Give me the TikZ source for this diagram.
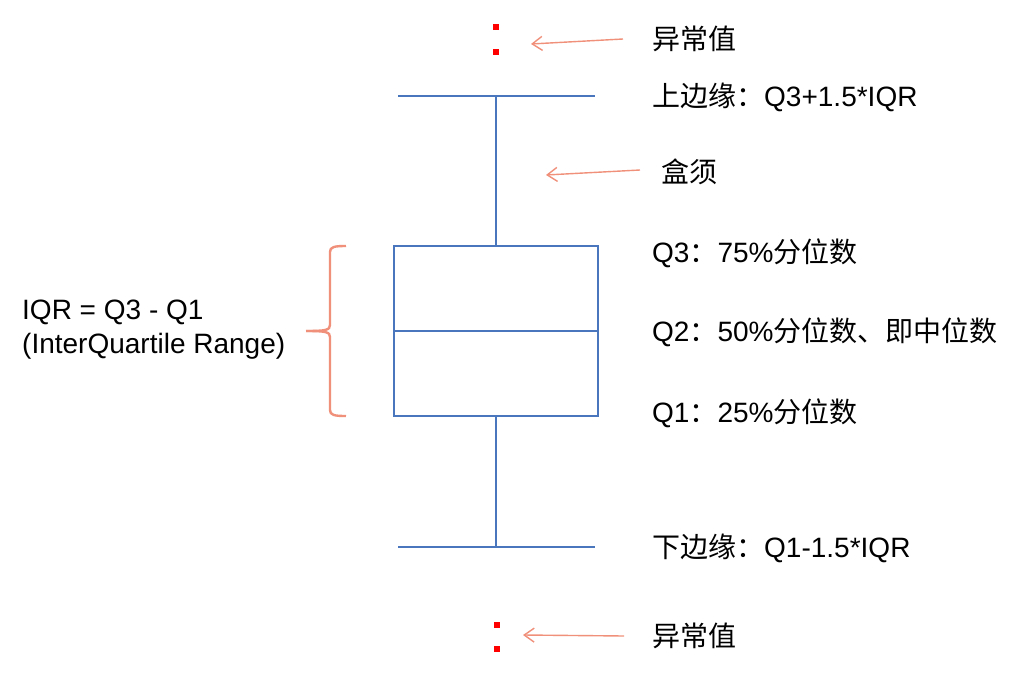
\documentclass[tikz,border=0pt]{standalone}
\usepackage{fontspec}
\setmainfont{Liberation Sans}
\newfontfamily\cjk{Noto Sans CJK SC}
\usetikzlibrary{arrows.meta}
\definecolor{boxblue}{HTML}{4A76BE}
\definecolor{salmon}{HTML}{F0907A}
\definecolor{outred}{HTML}{FF0000}
\tikzset{
  lbl/.style={anchor=west,inner sep=0pt,font=\fontsize{28}{34}\selectfont},
  boxline/.style={draw=boxblue,line width=1.8pt},
  arr/.style={draw=salmon,line width=1.4pt,-{Straight Barb[length=10pt,width=14pt,line width=1.4pt]}},
  brace/.style={draw=salmon,line width=2.4pt},
  dot/.style={fill=outred,draw=none,minimum size=6pt,inner sep=0pt,rectangle}
}
\begin{document}
\begin{tikzpicture}[x=1pt,y=-1pt]
\useasboundingbox (0,0) rectangle (1021,680);
% box
\node[boxline,rectangle,minimum width=204pt,minimum height=170pt,inner sep=0pt] (box) at (496,331) {};
\draw[boxline] (box.west |- 0,331) -- (box.east |- 0,331);
\coordinate (tcapL) at (398,96);
\coordinate (tcapR) at (595,96);
\coordinate (tcapM) at (496,96);
\coordinate (bcapL) at (398,547);
\coordinate (bcapR) at (595,547);
\coordinate (bcapM) at (496,547);
\draw[boxline] (tcapL) -- (tcapR);
\draw[boxline] (bcapL) -- (bcapR);
\draw[boxline] (tcapM) -- (box.north);
\draw[boxline] (box.south) -- (bcapM);
% outliers
\node[dot] (o1) at (496,27) {};
\node[dot] (o2) at (496,52) {};
\node[dot] (o3) at (497,625) {};
\node[dot] (o4) at (497,649) {};
% labels
\node[lbl] (l1) at (652,39) {\cjk 异常值};
\node[lbl] (l2) at (652,97) {{\cjk 上边缘：}Q3+1.5*IQR};
\node[lbl] (l3) at (661,172) {\cjk 盒须};
\node[lbl] (l4) at (652,253) {Q3{\cjk ：}75\%{\cjk 分位数}};
\node[lbl] (l5) at (652,332) {Q2{\cjk ：}50\%{\cjk 分位数、即中位数}};
\node[lbl] (l6) at (652,413) {Q1{\cjk ：}25\%{\cjk 分位数}};
\node[lbl] (l7) at (652,548) {{\cjk 下边缘：}Q1-1.5*IQR};
\node[lbl] (l8) at (652,636) {\cjk 异常值};
\node[lbl,align=left] (iqr) at (22,330) {IQR = Q3 - Q1\\(InterQuartile Range)};
% arrows
\coordinate (a1s) at (623,39);
\coordinate (a1e) at (531,44);
\coordinate (a2s) at (640,170);
\coordinate (a2e) at (546,175);
\coordinate (a3s) at (624,636);
\coordinate (a3e) at (523,635);
\draw[arr] (a1s) -- (a1e);
\draw[arr] (a2s) -- (a2e);
\draw[arr] (a3s) -- (a3e);
% brace
\draw[brace] (346,246) .. controls (334,246) and (330,247) .. (330,252)
  -- (330,325) .. controls (330,330) and (326,331) .. (306,331);
\draw[brace] (346,416) .. controls (334,416) and (330,415) .. (330,410)
  -- (330,337) .. controls (330,332) and (326,331) .. (306,331);
\end{tikzpicture}
\end{document}
